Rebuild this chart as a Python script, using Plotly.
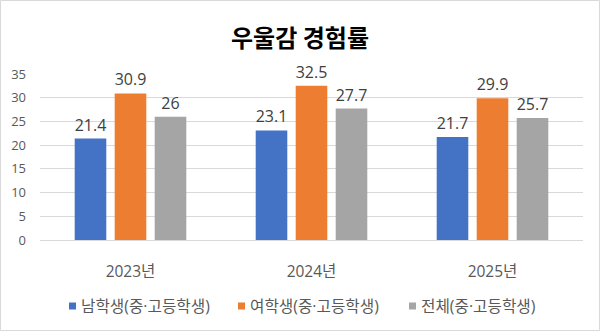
import plotly.graph_objects as go

# Depression experience rate by year (%)
years = ["2023년", "2024년", "2025년"]
series_names = ["남학생(중·고등학생)", "여학생(중·고등학생)", "전체(중·고등학생)"]
male = [21.4, 23.1, 21.7]
female = [30.9, 32.5, 29.9]
total = [26, 27.7, 25.7]
y_ticks = [0, 5, 10, 15, 20, 25, 30, 35]

colors = ["#4472C4", "#ED7D31", "#A5A5A5"]
FONT = "Open Sans, Noto Sans CJK KR"
KFONT = "Noto Sans CJK KR"

W, H = 600, 331
L, R, T, B = 40, 17, 74, 91
pw = W - L - R
ph = H - T - B


def px(x):
    return (x - L) / pw


def py(y):
    return (H - B - y) / ph


fig = go.Figure()
for name, vals, col in zip(series_names, [male, female, total], colors):
    fig.add_trace(go.Bar(
        x=years, y=vals, name=name,
        marker=dict(color=col, line=dict(width=0)),
        text=[f"{v:g}" for v in vals], textposition="outside",
        textfont=dict(family=FONT, size=16, color="#404040"),
        cliponaxis=False, showlegend=False,
    ))

# thin outer frame around the whole chart
fig.add_shape(type="rect", xref="paper", yref="paper",
              x0=px(0.5), x1=px(W - 0.5), y0=py(H - 0.5), y1=py(0.5),
              line=dict(color="#D9D9D9", width=1), layer="below")

# legend row: colour square + series name
legend_sq_x = [69, 238, 409]
legend_y = 306
for name, col, sx in zip(series_names, colors, legend_sq_x):
    fig.add_shape(type="rect", xref="paper", yref="paper",
                  x0=px(sx), x1=px(sx + 7), y0=py(legend_y + 3.5), y1=py(legend_y - 3.5),
                  fillcolor=col, line=dict(width=0))
    fig.add_annotation(xref="paper", yref="paper", x=px(sx + 10), y=py(legend_y),
                       xanchor="left", yanchor="middle", showarrow=False,
                       text=name, font=dict(family=FONT, size=15.7, color="#595959"))

fig.update_layout(
    width=W, height=H,
    margin=dict(l=L, r=R, t=T, b=B, pad=0, autoexpand=False),
    paper_bgcolor="white", plot_bgcolor="white",
    barmode="group", bargap=0.337, bargroupgap=0.21,
    title=dict(text="<b>우울감 경험률</b>", x=0.5, xref="container", xanchor="center",
               y=1 - 39 / H, yanchor="middle",
               font=dict(family=KFONT, size=24, color="#000000")),
    font=dict(family=FONT, color="#595959"),
    showlegend=False,
    xaxis=dict(showline=False, ticks="", showgrid=False,
               tickfont=dict(family=FONT, size=15.5, color="#595959"),
               ticklabelstandoff=20),
    yaxis=dict(range=[0, 35], tickvals=y_ticks, showgrid=True, gridcolor="#D9D9D9",
               gridwidth=1, zeroline=True, zerolinecolor="#D9D9D9", zerolinewidth=1,
               showline=False, ticks="",
               tickfont=dict(family=FONT, size=13, color="#595959"),
               ticklabelstandoff=13),
)

fig.write_html("out.html")
